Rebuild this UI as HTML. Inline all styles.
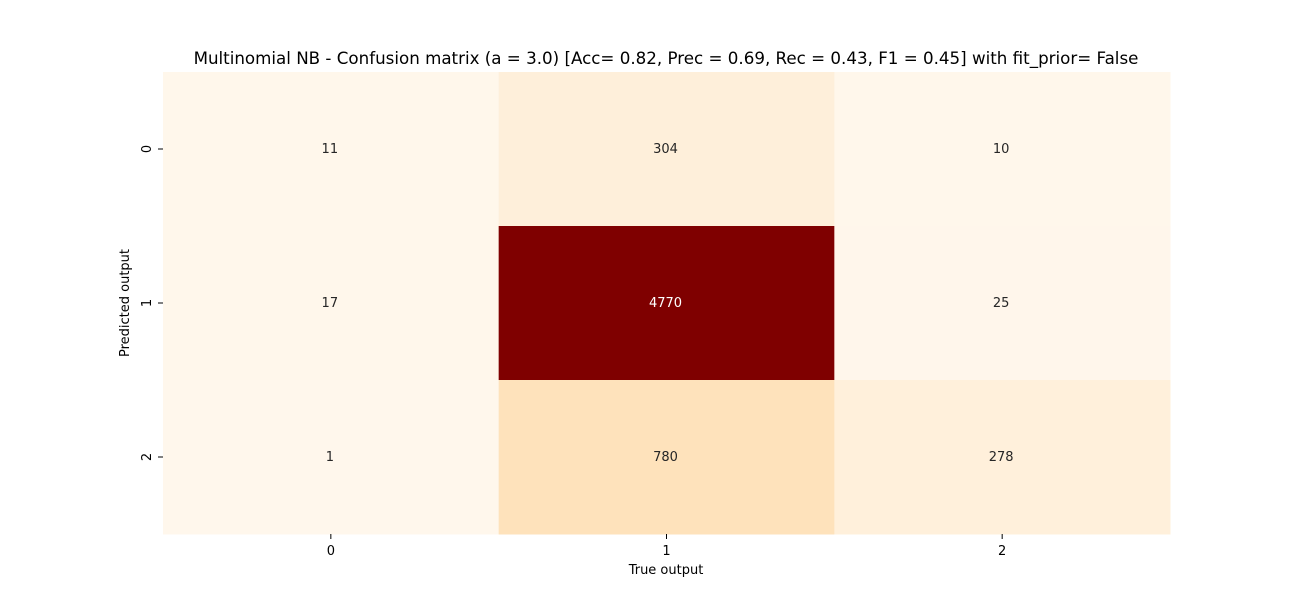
<!DOCTYPE html>
<html><head><meta charset="utf-8"><style>
body{margin:0;background:#fff;}
svg text{font-family:"DejaVu Sans","Liberation Sans",sans-serif;}
</style></head><body>
<svg id="chart" width="1300" height="600" xmlns="http://www.w3.org/2000/svg">
<text x="666" y="64" font-size="16.7" text-anchor="middle" fill="#000">Multinomial NB - Confusion matrix (a = 3.0) [Acc= 0.82, Prec = 0.69, Rec = 0.43, F1 = 0.45] with fit_prior= False</text>
<g id="cells"></g>
<g id="axes"></g>
<text x="666" y="574" font-size="13" text-anchor="middle" fill="#000">True output</text>
<text transform="translate(129,303) rotate(-90)" font-size="13" text-anchor="middle" fill="#000">Predicted output</text>
</svg>
<script>
const rowLabels = ["0","1","2"];
const colLabels = ["0","1","2"];
const row0 = [11, 304, 10];
const row1 = [17, 4770, 25];
const row2 = [1, 780, 278];
const matrix = [row0, row1, row2];

const L=163, R=1170, T=72, B=534;
const NS="http://www.w3.org/2000/svg";
const cw=(R-L)/colLabels.length, ch=(B-T)/rowLabels.length;
const xPos=j=>L+j*cw, yPos=i=>T+i*ch;
const stops=["#fff7ec","#fee8c8","#fdd49e","#fdbb84","#fc8d59","#ef6548","#d7301f","#b30000","#7f0000"];
function hex(h){return [1,3,5].map(k=>parseInt(h.substr(k,2),16));}
function cmap(t){t=Math.max(0,Math.min(1,t));const p=t*(stops.length-1);const k=Math.min(Math.floor(p),stops.length-2);const f=p-k;const a=hex(stops[k]),b=hex(stops[k+1]);return "rgb("+a.map((v,i)=>Math.round(v+(b[i]-v)*f)).join(",")+")";}
const all=matrix.flat();const vmin=Math.min(...all),vmax=Math.max(...all);
const cells=document.getElementById('cells'),axes=document.getElementById('axes');
function mk(tag,attrs,parent){const e=document.createElementNS(NS,tag);for(const k in attrs)e.setAttribute(k,attrs[k]);parent.appendChild(e);return e;}
matrix.forEach((row,i)=>row.forEach((v,j)=>{
 const t=(v-vmin)/(vmax-vmin);
 const r=mk('rect',{x:xPos(j),y:yPos(i),width:cw+0.5,height:ch+0.5,fill:cmap(t)},cells);
 
 
 const tx=mk('text',{x:xPos(j)+cw/2-1,y:yPos(i)+ch/2+4,'font-size':13,'text-anchor':'middle',fill:t>0.5?'#fff':'#262626'},cells);
 tx.textContent=v;
 
 
}));
colLabels.forEach((lab,j)=>{
 const x=xPos(j)+cw/2;
 const tk=mk('line',{x1:x,x2:x,y1:B,y2:B+5,stroke:'#000','stroke-width':1},axes);
 
 
 const t=mk('text',{x:x,y:B+21,'font-size':13,'text-anchor':'middle',fill:'#000'},axes);
 t.textContent=lab;
 
 
});
rowLabels.forEach((lab,i)=>{
 const y=yPos(i)+ch/2;
 const tk=mk('line',{x1:L-5,x2:L,y1:y,y2:y,stroke:'#000','stroke-width':1},axes);
 
 
 const t=mk('text',{transform:'translate('+(L-12)+','+y+') rotate(-90)','font-size':13,'text-anchor':'middle',fill:'#000'},axes);
 t.textContent=lab;
 
 
});
</script>
</body></html>
